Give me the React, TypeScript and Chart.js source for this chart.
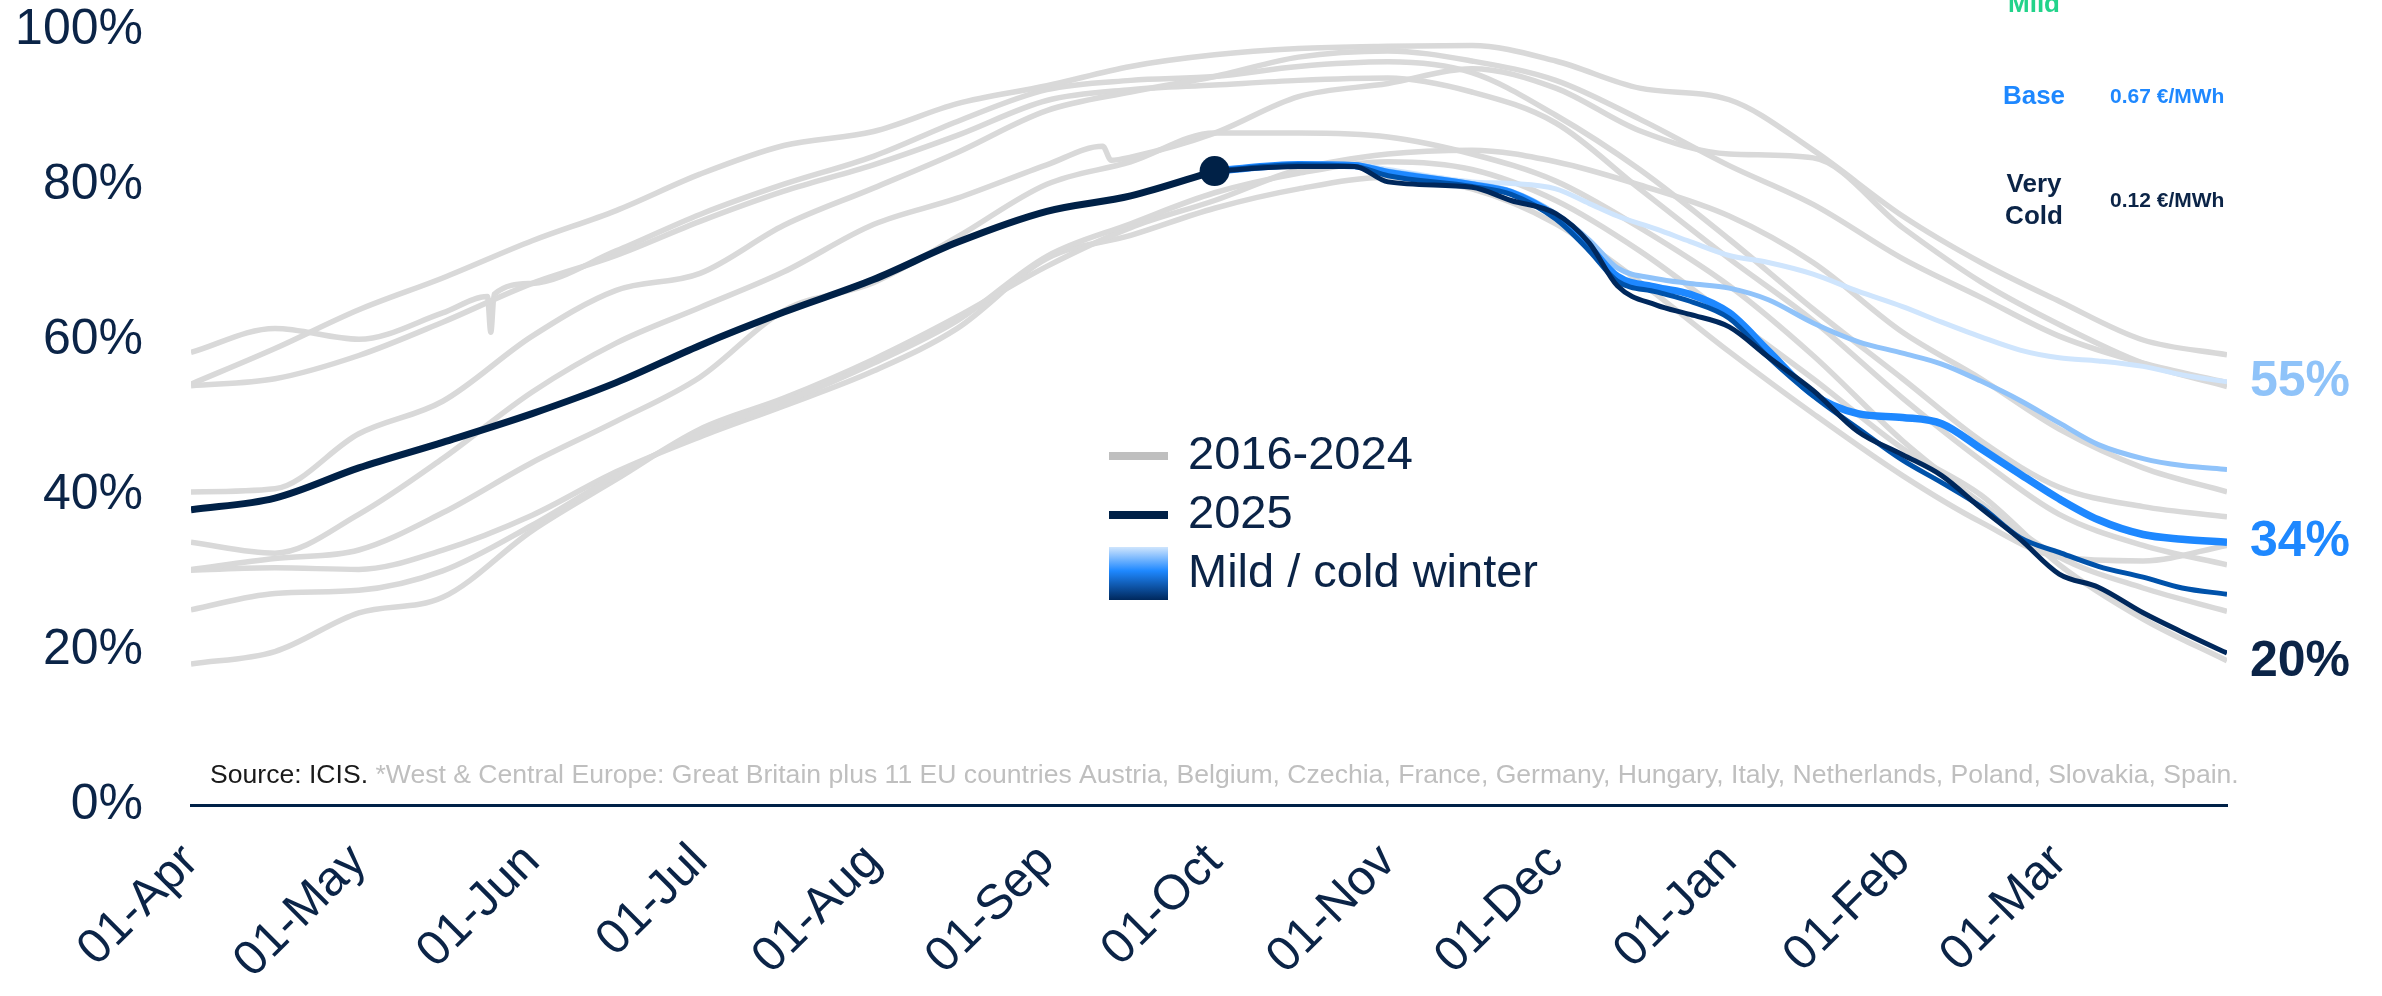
import React, { useEffect, useRef } from 'react';
import { Chart, registerables } from 'chart.js';

Chart.register(...registerables);

// ---------- data ----------
const days = [0, 15, 30, 45, 61, 76, 91, 106, 122, 137, 153, 168, 183, 198, 214, 229, 244, 259, 275, 290, 306, 320, 334, 349, 364];
const days2022 = [0, 15, 30, 45, 61, 76, 91, 106, 122, 137, 153, 163, 164.5, 168, 183, 198, 214, 229, 244, 259, 275, 290, 306, 320, 334, 349, 364];
const days2024 = [0, 15, 30, 45, 53, 53.6, 54.2, 61, 76, 91, 106, 122, 137, 153, 168, 183, 198, 214, 229, 244, 259, 275, 290, 306, 320, 334, 349, 364];

const y2016 = [30.4, 31.8, 32.9, 37.7, 44.2, 49.5, 55.2, 63.8, 67.4, 73.3, 80.1, 83.0, 86.7, 86.7, 86.2, 84.0, 80.5, 74.5, 67.0, 58.0, 47.0, 39.0, 32.0, 28.0, 25.0];
const y2017 = [25.2, 27.3, 27.7, 30.2, 36.1, 42.5, 48.0, 52.0, 57.0, 62.5, 70.8, 75.0, 79.0, 81.5, 83.0, 82.0, 78.0, 71.5, 63.0, 55.0, 46.0, 40.0, 31.0, 24.0, 18.6];
const y2018 = [18.2, 19.8, 24.8, 26.8, 35.4, 42.0, 48.5, 52.5, 57.5, 63.0, 69.5, 74.5, 78.0, 82.0, 84.0, 84.5, 83.0, 80.0, 76.0, 70.0, 61.0, 55.0, 48.5, 43.5, 40.4];
const y2019 = [40.4, 40.8, 47.9, 52.1, 60.5, 66.4, 68.6, 74.8, 79.6, 84.2, 89.6, 92.0, 94.0, 96.5, 97.3, 96.0, 93.5, 88.5, 82.5, 77.5, 70.5, 65.5, 60.5, 57.0, 54.5];
const y2020 = [54.1, 55.0, 58.0, 62.3, 67.3, 70.9, 75.3, 79.2, 82.6, 86.4, 90.9, 92.3, 92.9, 93.5, 93.8, 92.0, 88.0, 79.5, 70.5, 62.5, 52.5, 44.5, 37.5, 33.5, 31.0];
const y2021 = [30.3, 30.6, 30.4, 32.9, 37.4, 43.0, 47.5, 51.5, 56.0, 61.5, 70.5, 73.5, 77.0, 79.5, 81.0, 79.5, 75.0, 67.5, 58.5, 50.5, 42.5, 36.5, 32.0, 31.5, 33.5];
const y2022 = [33.9, 32.5, 37.5, 44.7, 53.3, 59.6, 64.2, 68.8, 74.9, 78.3, 82.6, 85.0, 83.2, 83.6, 86.7, 91.4, 93.1, 95.0, 92.5, 87.0, 84.0, 83.5, 74.5, 67.5, 62.0, 57.0, 54.0];
const y2023 = [54.3, 58.9, 63.9, 68.0, 72.8, 76.7, 81.4, 85.1, 86.9, 90.5, 92.8, 95.3, 96.8, 97.6, 97.9, 98.0, 96.0, 92.5, 91.0, 84.5, 76.0, 70.0, 65.0, 60.0, 58.1];
const y2024 = [58.4, 61.5, 60.1, 63.5, 65.6, 61.0, 65.9, 67.3, 71.5, 76.2, 80.1, 83.7, 88.2, 92.3, 93.5, 94.0, 95.3, 95.9, 94.5, 89.0, 82.0, 73.0, 64.0, 55.0, 47.0, 41.0, 38.5, 37.2];

const historyYears = [
  { days, vals: y2016 },
  { days, vals: y2017 },
  { days, vals: y2018 },
  { days, vals: y2019 },
  { days, vals: y2020 },
  { days, vals: y2021 },
  { days: days2022, vals: y2022 },
  { days, vals: y2023 },
  { days: days2024, vals: y2024 },
];

const days2025 = [0, 15, 30, 45, 61, 76, 91, 106, 122, 137, 153, 168, 183];
const v2025 = [38.1, 39.6, 43.5, 46.8, 50.5, 54.5, 59.3, 63.6, 67.8, 72.6, 76.6, 78.6, 81.8];

const scenarioDays = [183, 198, 208, 214, 229, 236, 244, 250, 255, 262, 268, 275, 282, 290, 298, 306, 313, 320, 327, 334, 341, 349, 356, 364];
const veryMild = [81.8, 82.6, 82.6, 82.0, 80.4, 80.2, 79.5, 77.6, 76.0, 74.3, 72.7, 70.9, 70.0, 68.5, 66.3, 64.3, 62.3, 60.4, 58.7, 57.7, 57.3, 56.6, 55.5, 54.6];
const mild = [81.8, 82.6, 82.6, 81.8, 80.2, 79.2, 76.3, 72.9, 69.3, 67.9, 67.3, 66.7, 65.2, 62.2, 59.8, 58.3, 56.9, 54.7, 52.2, 49.3, 46.5, 44.7, 43.8, 43.3];
const base = [81.8, 82.6, 82.5, 81.6, 80.0, 79.0, 75.9, 72.0, 68.2, 66.8, 65.9, 63.5, 58.6, 53.0, 50.5, 50.0, 49.2, 46.0, 42.7, 39.5, 36.8, 34.9, 34.3, 33.9];
const cold = [81.8, 82.6, 82.4, 81.2, 79.8, 78.8, 75.6, 71.5, 67.6, 66.2, 65.0, 62.8, 57.8, 52.8, 48.6, 44.5, 41.6, 38.5, 34.5, 32.6, 30.8, 29.4, 28.0, 27.2];
const veryCold = [81.8, 82.4, 82.4, 80.4, 79.7, 78.0, 76.3, 72.5, 67.0, 64.5, 63.3, 61.7, 57.8, 53.5, 48.2, 45.2, 42.5, 38.3, 34.3, 29.8, 28.1, 24.8, 22.3, 19.6];

const monthTicks = [0, 30, 61, 91, 122, 153, 183, 214, 244, 275, 306, 334];
const monthLabels = ['01-Apr', '01-May', '01-Jun', '01-Jul', '01-Aug', '01-Sep', '01-Oct', '01-Nov', '01-Dec', '01-Jan', '01-Feb', '01-Mar'];
const yTicks = [0, 20, 40, 60, 80, 100];

const legendLabels = ['2016-2024', '2025', 'Mild / cold winter'];
const scenarioNotes = [
  { name: ['Mild'], value: '', color: '#22d38a' },
  { name: ['Base'], value: '0.67 €/MWh', color: '#1e88ff' },
  { name: ['Very', 'Cold'], value: '0.12 €/MWh', color: '#0b2447' },
];
const sourceLead = 'Source: ICIS.';
const sourceRest = ' *West & Central Europe: Great Britain plus 11 EU countries Austria, Belgium, Czechia, France, Germany, Hungary, Italy, Netherlands, Poland, Slovakia, Spain.';

// ---------- styles ----------
const FONT = '"Liberation Sans", Arial, Helvetica, sans-serif';
const NAVY = '#0b2447';
const LINE_NAVY = '#002147';
const GRAY = '#d9d9d9';

const toPoints = (xs: number[], ys: number[]) => xs.map((x, i) => ({ x, y: ys[i] }));

const overlayPlugin = {
  id: 'overlay',
  afterDraw(chart: any) {
    const { ctx, chartArea, scales } = chart;
    const yS = scales.y;
    ctx.save();

    // end labels
    const ends = [
      { v: veryMild[veryMild.length - 1], color: '#8fc3f9', dy: 0 },
      { v: base[base.length - 1], color: '#1e88ff', dy: 0 },
      { v: veryCold[veryCold.length - 1], color: NAVY, dy: 9 },
    ];
    ctx.font = `bold 50px ${FONT}`;
    ctx.textAlign = 'left';
    ctx.textBaseline = 'middle';
    ends.forEach((e) => {
      ctx.fillStyle = e.color;
      ctx.fillText(Math.round(e.v) + '%', chartArea.right + 23, yS.getPixelForValue(e.v) + e.dy);
    });

    // scenario notes top right
    const noteX = 2034;
    const valX = 2110;
    const rows = [5, 97, 201];
    scenarioNotes.forEach((n, i) => {
      ctx.fillStyle = n.color;
      ctx.font = `bold 26px ${FONT}`;
      ctx.textAlign = 'center';
      ctx.textBaseline = 'middle';
      if (n.name.length === 1) {
        ctx.fillText(n.name[0], noteX, rows[i]);
      } else {
        ctx.fillText(n.name[0], noteX, rows[i] - 16);
        ctx.fillText(n.name[1], noteX, rows[i] + 16);
      }
      if (n.value) {
        ctx.font = `bold 21px ${FONT}`;
        ctx.textAlign = 'left';
        ctx.fillText(n.value, valX, rows[i]);
      }
    });

    // legend
    const lx = 1109;
    const lw = 59;
    const tx = 1188;
    const ly = [456, 515, 574];
    ctx.lineCap = 'butt';
    ctx.strokeStyle = '#bfbfbf';
    ctx.lineWidth = 8;
    ctx.beginPath();
    ctx.moveTo(lx, ly[0]);
    ctx.lineTo(lx + lw, ly[0]);
    ctx.stroke();
    ctx.strokeStyle = LINE_NAVY;
    ctx.beginPath();
    ctx.moveTo(lx, ly[1]);
    ctx.lineTo(lx + lw, ly[1]);
    ctx.stroke();
    const g = ctx.createLinearGradient(0, 547, 0, 600);
    g.addColorStop(0, '#cfe5fd');
    g.addColorStop(0.45, '#1e88ff');
    g.addColorStop(1, '#00285c');
    ctx.fillStyle = g;
    ctx.fillRect(lx, 547, lw, 53);
    ctx.fillStyle = NAVY;
    ctx.font = `47px ${FONT}`;
    ctx.textAlign = 'left';
    ctx.textBaseline = 'middle';
    legendLabels.forEach((t, i) => ctx.fillText(t, tx, ly[i]));

    // source line
    const targetW = 2030;
    ctx.font = `24px ${FONT}`;
    const w24 = ctx.measureText(sourceLead + sourceRest).width;
    const fs = (24 * targetW) / w24;
    ctx.font = `${fs}px ${FONT}`;
    ctx.textBaseline = 'middle';
    ctx.fillStyle = '#1a1a1a';
    ctx.fillText(sourceLead, 210, 776);
    const w1 = ctx.measureText(sourceLead).width;
    ctx.fillStyle = '#bfbfbf';
    ctx.fillText(sourceRest, 210 + w1, 776);

    ctx.restore();
  },
};

export default function App() {
  const ref = useRef<HTMLCanvasElement | null>(null);

  useEffect(() => {
    if (!ref.current) return;
    const grayDs = historyYears.map((h, i) => ({
      label: String(2016 + i),
      data: toPoints(h.days, h.vals),
      borderColor: GRAY,
      borderWidth: 5.5,
      pointRadius: 0,
      cubicInterpolationMode: 'monotone',
      order: 100,
    }));
    const scen = [
      { label: 'Very mild', vals: veryMild, color: '#cfe5fd', w: 5, order: 50 },
      { label: 'Mild', vals: mild, color: '#90c3fa', w: 5, order: 40 },
      { label: 'Base', vals: base, color: '#1e88ff', w: 7.5, order: 30 },
      { label: 'Cold', vals: cold, color: '#0052aa', w: 5, order: 20 },
      { label: 'Very cold', vals: veryCold, color: '#00285c', w: 5, order: 10 },
    ].map((s) => ({
      label: s.label,
      data: toPoints(scenarioDays, s.vals),
      borderColor: s.color,
      borderWidth: s.w,
      pointRadius: 0,
      cubicInterpolationMode: 'monotone',
      order: s.order,
    }));
    const last = days2025.length - 1;
    const ds2025 = {
      label: '2025',
      data: toPoints(days2025, v2025),
      borderColor: LINE_NAVY,
      backgroundColor: LINE_NAVY,
      borderWidth: 7,
      pointRadius: (c: any) => (c.dataIndex === last ? 15 : 0),
      pointBackgroundColor: LINE_NAVY,
      pointBorderWidth: 0,
      cubicInterpolationMode: 'monotone',
      order: 0,
    };

    const chart = new Chart(ref.current, {
      type: 'line',
      data: { datasets: [...grayDs, ...scen, ds2025] as any },
      options: {
        animation: false,
        responsive: false,
        devicePixelRatio: 1,
        layout: { padding: { top: 30, right: 155, left: 0, bottom: 0 } },
        plugins: { legend: { display: false }, tooltip: { enabled: false } },
        scales: {
          x: {
            type: 'linear',
            min: 0,
            max: 364,
            grid: { display: false, drawTicks: false },
            border: { display: true, color: LINE_NAVY, width: 3 },
            afterBuildTicks: (s: any) => {
              s.ticks = monthTicks.map((v) => ({ value: v }));
            },
            afterFit: (s: any) => {
              s.height = 191;
              s.paddingLeft = 0;
              s.paddingRight = 0;
            },
            ticks: {
              autoSkip: false,
              minRotation: 45,
              maxRotation: 45,
              padding: 28,
              color: NAVY,
              font: { family: FONT, size: 49 },
              callback: (v: any) => monthLabels[monthTicks.indexOf(Number(v))] ?? '',
            },
          },
          y: {
            min: 0,
            max: 100,
            grid: { display: false, drawTicks: false },
            border: { display: false },
            afterBuildTicks: (s: any) => {
              s.ticks = yTicks.map((v) => ({ value: v }));
            },
            afterFit: (s: any) => {
              s.width = 191;
              s.paddingTop = 0;
              s.paddingBottom = 0;
            },
            ticks: {
              padding: 48,
              color: NAVY,
              font: { family: FONT, size: 50 },
              callback: (v: any) => v + '%',
            },
          },
        },
      } as any,
      plugins: [overlayPlugin],
    });
    return () => chart.destroy();
  }, []);

  return (
    <div style={{ position: 'fixed', left: 0, top: 0, width: 2382, height: 996, background: '#fff' }}>
      <canvas ref={ref} width={2382} height={996} style={{ display: 'block' }} />
    </div>
  );
}
